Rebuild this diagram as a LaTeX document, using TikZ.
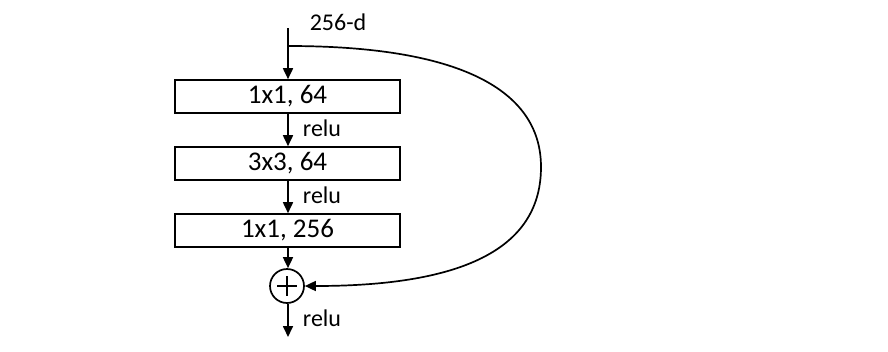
\documentclass[tikz,border=0pt]{standalone}
\usepackage{fontspec}
\setmainfont{Carlito}
\usetikzlibrary{arrows.meta}
\tikzset{
  layerbox/.style={draw, line width=1.6pt, minimum width=225pt, minimum height=33pt, inner sep=0pt, font=\fontsize{27}{30}\selectfont},
  lbl/.style={font=\fontsize{24}{26}\selectfont, inner sep=0pt},
  conn/.style={line width=1.7pt, -{Triangle[length=11pt,width=10pt]}},
}
\begin{document}
\begin{tikzpicture}[x=1pt,y=-1pt]
\useasboundingbox (0,0) rectangle (888,351);
\coordinate (top) at (288,28);
\coordinate (split) at (288,46);
\coordinate (out) at (288,337);
\node[layerbox] (b1) at (287.5,96.5) {1x1, 64};
\node[layerbox] (b2) at (287.5,163.5) {3x3, 64};
\node[layerbox] (b3) at (287.5,230.5) {1x1, 256};
\node[draw, circle, line width=1.7pt, minimum size=34pt, inner sep=0pt] (sum) at (287,286) {};
\draw[line width=1.6pt] (sum.center) ++(-10,0) -- ++(20,0);
\draw[line width=1.6pt] (sum.center) ++(0,-10) -- ++(0,20);
\node[lbl] (dim) at (338,22) {256-d};
\draw[conn] (top) -- (b1.north -| top);
\draw[conn] (b1.south -| top) -- (b2.north -| top);
\node[lbl] (r1) at (322,128) {relu};
\draw[conn] (b2.south -| top) -- (b3.north -| top);
\node[lbl] (r2) at (322,195) {relu};
\draw[conn] (b3.south -| top) -- (sum.north -| top);
\draw[conn] (sum.south -| top) -- (out);
\node[lbl] (r3) at (322,318) {relu};
\draw[conn] (split) .. controls (470,46) and (541,95) .. (541,167)
  .. controls (541,245) and (470,286) .. (sum.east);
\end{tikzpicture}
\end{document}
